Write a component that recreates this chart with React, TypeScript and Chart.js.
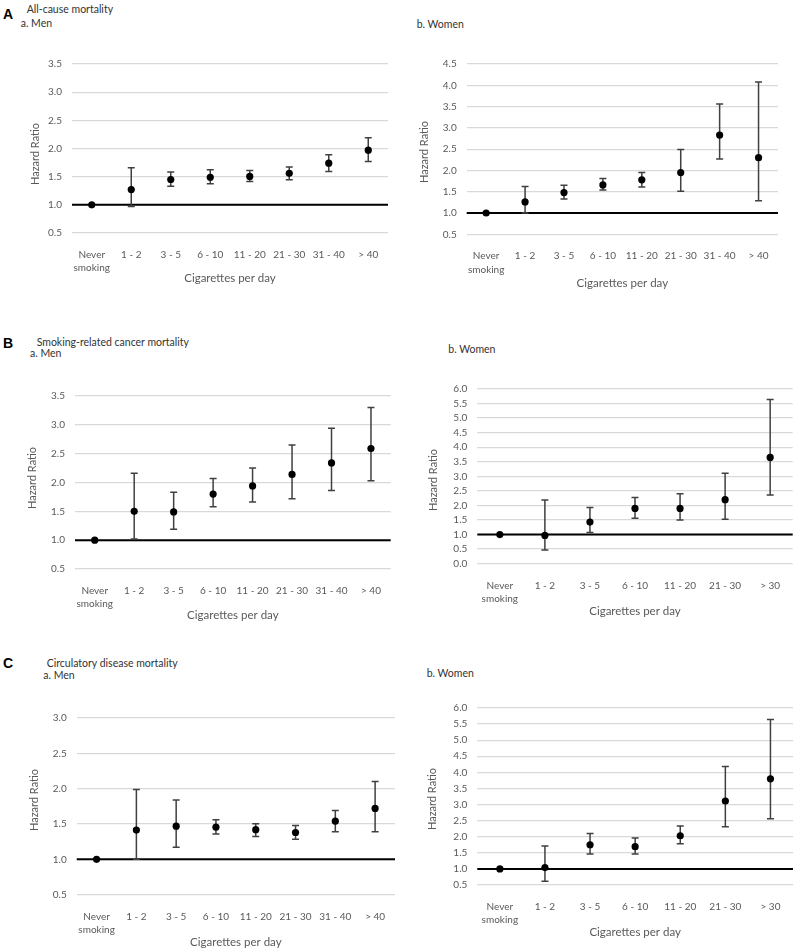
import React, { useEffect, useRef } from 'react';
import { Chart, registerables } from 'chart.js';
Chart.register(...registerables);

const FONT = 'Lato, "Open Sans", "DejaVu Sans", sans-serif';

// Category labels
const CATS8: (string | string[])[] = [['Never', 'smoking'], '1 - 2', '3 - 5', '6 - 10', '11 - 20', '21 - 30', '31 - 40', '> 40'];
const CATS7: (string | string[])[] = [['Never', 'smoking'], '1 - 2', '3 - 5', '6 - 10', '11 - 20', '21 - 30', '> 30'];

// A. All-cause mortality
const allMenHR = [1.0, 1.27, 1.45, 1.49, 1.505, 1.56, 1.74, 1.97];
const allMenLo = [null, 0.97, 1.33, 1.375, 1.415, 1.445, 1.59, 1.77];
const allMenHi = [null, 1.66, 1.585, 1.625, 1.61, 1.67, 1.89, 2.19];
const allWomenHR = [1.0, 1.26, 1.48, 1.66, 1.78, 1.95, 2.83, 2.3];
const allWomenLo = [null, 1.0, 1.33, 1.54, 1.61, 1.51, 2.27, 1.29];
const allWomenHi = [null, 1.62, 1.65, 1.81, 1.95, 2.49, 3.56, 4.08];

// B. Smoking-related cancer mortality
const canMenHR = [1.0, 1.5, 1.49, 1.8, 1.94, 2.14, 2.34, 2.59];
const canMenLo = [null, 1.02, 1.19, 1.58, 1.66, 1.72, 1.86, 2.03];
const canMenHi = [null, 2.16, 1.83, 2.07, 2.25, 2.65, 2.94, 3.3];
const canWomenHR = [1.0, 0.97, 1.43, 1.9, 1.9, 2.2, 3.65];
const canWomenLo = [null, 0.47, 1.07, 1.56, 1.5, 1.53, 2.36];
const canWomenHi = [null, 2.19, 1.93, 2.27, 2.4, 3.11, 5.64];

// C. Circulatory disease mortality
const cirMenHR = [1.0, 1.415, 1.47, 1.456, 1.42, 1.38, 1.54, 1.72];
const cirMenLo = [null, 1.0, 1.17, 1.36, 1.325, 1.285, 1.39, 1.39];
const cirMenHi = [null, 1.99, 1.84, 1.56, 1.505, 1.48, 1.69, 2.1];
const cirWomenHR = [1.0, 1.04, 1.75, 1.69, 2.03, 3.11, 3.8];
const cirWomenLo = [null, 0.62, 1.46, 1.46, 1.78, 2.31, 2.56];
const cirWomenHi = [null, 1.71, 2.1, 1.96, 2.33, 4.18, 5.64];

const REF_VALUE = 1.0;

type Spec = {
  left: number;
  plot: { l: number; t: number; r: number; b: number };
  yMin: number;
  yMax: number;
  cats: (string | string[])[];
  hr: number[];
  lo: (number | null)[];
  hi: (number | null)[];
  xTitleY: number;
  yTitle: { x: number; y: number };
};

const PANELS: Spec[] = [
  { left: 0, plot: { l: 72, t: 56, r: 388, b: 233 }, yMin: 0.5, yMax: 3.5, cats: CATS8, hr: allMenHR, lo: allMenLo, hi: allMenHi, xTitleY: 278, yTitle: { x: 34, y: 154 } },
  { left: 400, plot: { l: 466.7, t: 55.7, r: 778, b: 234.3 }, yMin: 0.5, yMax: 4.5, cats: CATS8, hr: allWomenHR, lo: allWomenLo, hi: allWomenHi, xTitleY: 283, yTitle: { x: 423, y: 152 } },
  { left: 0, plot: { l: 75, t: 387.7, r: 390.7, b: 569 }, yMin: 0.5, yMax: 3.5, cats: CATS8, hr: canMenHR, lo: canMenLo, hi: canMenHi, xTitleY: 615, yTitle: { x: 30.5, y: 478 } },
  { left: 400, plot: { l: 477.3, t: 380.7, r: 792.7, b: 563.7 }, yMin: 0, yMax: 6, cats: CATS7, hr: canWomenHR, lo: canWomenLo, hi: canWomenHi, xTitleY: 611, yTitle: { x: 431.5, y: 480 } },
  { left: 0, plot: { l: 76.7, t: 710, r: 395, b: 894.7 }, yMin: 0.5, yMax: 3.0, cats: CATS8, hr: cirMenHR, lo: cirMenLo, hi: cirMenHi, xTitleY: 941.7, yTitle: { x: 33, y: 799.5 } },
  { left: 400, plot: { l: 477.3, t: 700, r: 793.3, b: 885 }, yMin: 0.5, yMax: 6.0, cats: CATS7, hr: cirWomenHR, lo: cirWomenLo, hi: cirWomenHi, xTitleY: 932, yTitle: { x: 431, y: 799 } },
];

const errorBarPlugin = {
  id: 'errorBars',
  beforeDatasetsDraw(chart: any) {
    const { ctx, chartArea, scales } = chart;
    const xs = scales.x;
    const ys = scales.y;
    // reference line at HR = 1
    const yRef = ys.getPixelForValue(REF_VALUE);
    ctx.save();
    ctx.strokeStyle = '#000000';
    ctx.lineWidth = 2;
    ctx.beginPath();
    ctx.moveTo(chartArea.left, yRef);
    ctx.lineTo(chartArea.right, yRef);
    ctx.stroke();
    // error bars
    const ds = chart.data.datasets[0];
    ctx.strokeStyle = '#404040';
    ctx.lineWidth = 1.5;
    const cap = 3.5;
    ds.lo.forEach((lo: number | null, i: number) => {
      const hi = ds.hi[i];
      if (lo == null || hi == null) return;
      const x = xs.getPixelForValue(i);
      const yl = ys.getPixelForValue(lo);
      const yh = ys.getPixelForValue(hi);
      ctx.beginPath();
      ctx.moveTo(x, yl);
      ctx.lineTo(x, yh);
      ctx.moveTo(x - cap, yl);
      ctx.lineTo(x + cap, yl);
      ctx.moveTo(x - cap, yh);
      ctx.lineTo(x + cap, yh);
      ctx.stroke();
    });
    ctx.restore();
  },
};

const TITLE_SIZE = 11.5;
const TITLE_LH = TITLE_SIZE * 1.2;

function Panel({ spec }: { spec: Spec }) {
  const ref = useRef<HTMLCanvasElement>(null);
  const x0 = spec.left;
  const y0 = Math.round(spec.plot.t) - 8;
  const w = Math.round(spec.plot.r) + 4 - x0;
  const h = Math.round(spec.xTitleY + TITLE_LH / 2) - y0;

  useEffect(() => {
    const chart = new Chart(ref.current as HTMLCanvasElement, {
      type: 'line',
      data: {
        labels: spec.cats as any,
        datasets: [
          {
            data: spec.hr,
            lo: spec.lo,
            hi: spec.hi,
            showLine: false,
            pointRadius: 3.6,
            pointBackgroundColor: '#000000',
            pointBorderColor: '#000000',
            pointBorderWidth: 0,
          } as any,
        ],
      },
      options: {
        animation: false,
        responsive: false,
        events: [],
        layout: { padding: { left: 0, top: spec.plot.t - y0, right: x0 + w - spec.plot.r, bottom: 0 } },
        plugins: { legend: { display: false }, tooltip: { enabled: false } },
        scales: {
          x: {
            type: 'category',
            offset: true,
            grid: { display: false },
            border: { display: false },
            ticks: {
              autoSkip: false,
              maxRotation: 0,
              minRotation: 0,
              padding: 7,
              color: '#595959',
              font: { family: FONT, size: 10, lineHeight: 1.35 },
            },
            title: {
              display: true,
              text: 'Cigarettes per day',
              color: '#595959',
              padding: 0,
              font: { family: FONT, size: TITLE_SIZE, lineHeight: 1.2 },
            },
            afterFit: (s: any) => {
              s.height = y0 + h - spec.plot.b;
            },
          },
          y: {
            min: spec.yMin,
            max: spec.yMax,
            grid: { color: '#d9d9d9', lineWidth: 1.3, drawTicks: false },
            border: { display: false },
            ticks: {
              stepSize: 0.5,
              autoSkip: false,
              padding: 10,
              color: '#595959',
              font: { family: FONT, size: 10 },
              callback: (v: any) => Number(v).toFixed(1),
            },
            afterFit: (s: any) => {
              s.width = spec.plot.l - x0;
            },
          },
        },
      } as any,
      plugins: [errorBarPlugin],
    });
    return () => chart.destroy();
  }, []);

  return (
    <canvas
      ref={ref}
      width={w}
      height={h}
      style={{ position: 'absolute', left: x0, top: y0, width: w, height: h }}
    />
  );
}

const LABELS = [
  { t: 'A', x: 3, y: 14, bold: true },
  { t: 'All-cause mortality', x: 26.7, y: 9 },
  { t: 'a. Men', x: 20.7, y: 23.3 },
  { t: 'b. Women', x: 416.7, y: 24 },
  { t: 'B', x: 3, y: 343, bold: true },
  { t: 'Smoking-related cancer mortality', x: 36.7, y: 341.7 },
  { t: 'a. Men', x: 30, y: 353.3 },
  { t: 'b. Women', x: 448.3, y: 349.3 },
  { t: 'C', x: 3, y: 662.5, bold: true },
  { t: 'Circulatory disease mortality', x: 46.7, y: 662.7 },
  { t: 'a. Men', x: 43.3, y: 675 },
  { t: 'b. Women', x: 426.7, y: 672.7 },
];

export default function App() {
  return (
    <div style={{ position: 'absolute', left: 0, top: 0, width: 797, height: 952, background: '#ffffff', overflow: 'hidden' }}>
      {PANELS.map((p, i) => (
        <Panel key={i} spec={p} />
      ))}
      {LABELS.map((l, i) => (
        <div
          key={'l' + i}
          style={{
            position: 'absolute',
            left: l.x,
            top: l.y - 8,
            height: 16,
            lineHeight: '16px',
            whiteSpace: 'nowrap',
            fontFamily: l.bold ? '"Liberation Sans", Arial, sans-serif' : FONT,
            fontWeight: l.bold ? 700 : 400,
            fontSize: l.bold ? 14 : 10.5,
            color: l.bold ? '#000000' : '#333333',
          }}
        >
          {l.t}
        </div>
      ))}
      {PANELS.map((p, i) => (
        <div
          key={'y' + i}
          style={{
            position: 'absolute',
            left: p.yTitle.x,
            top: p.yTitle.y,
            transform: 'translate(-50%, -50%) rotate(-90deg)',
            whiteSpace: 'nowrap',
            fontFamily: FONT,
            fontSize: 11,
            lineHeight: '13px',
            color: '#595959',
          }}
        >
          Hazard Ratio
        </div>
      ))}
    </div>
  );
}
